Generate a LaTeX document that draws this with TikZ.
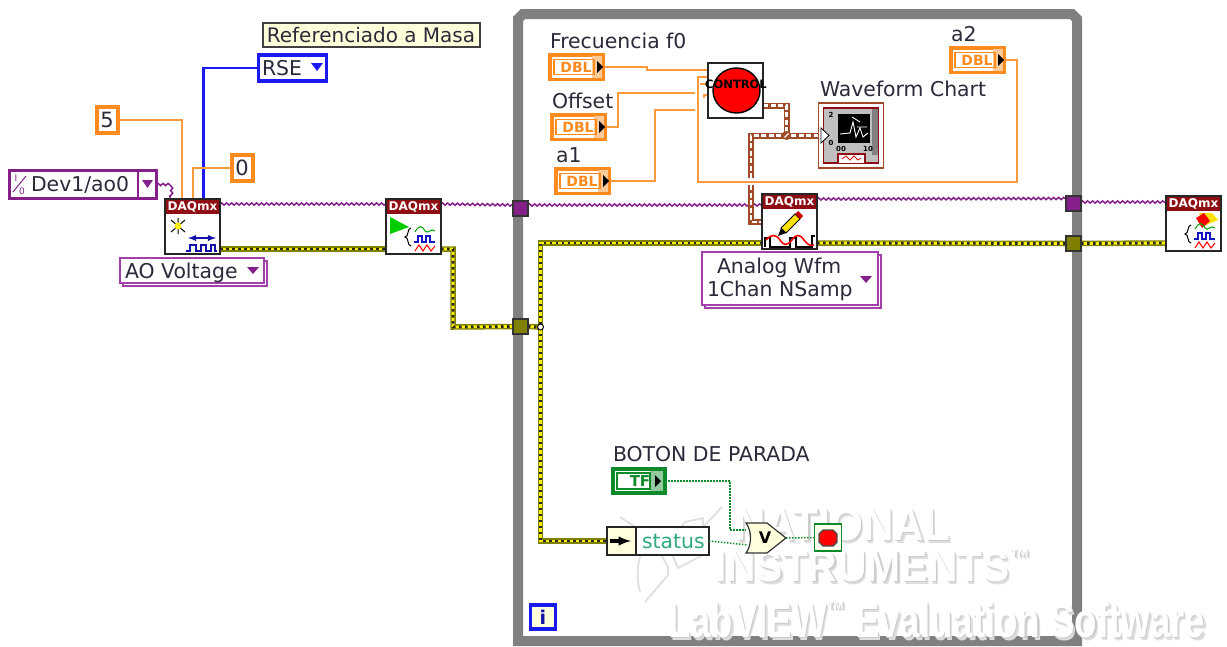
\documentclass[tikz,border=0pt]{standalone}
\usepackage{fontspec}
\usepackage{graphicx}
\setmainfont{DejaVu Sans}
\newfontfamily\wmfont{Liberation Sans}
\usetikzlibrary{decorations.pathmorphing}
\pgfdeclarelayer{wires}
\pgfdeclarelayer{top}
\pgfsetlayers{wires,main,top}
\definecolor{lvorange}{HTML}{FF8A1E}
\definecolor{lvwire}{HTML}{FF9A3C}
\definecolor{lvpurple}{HTML}{85208A}
\definecolor{lvlilac}{HTML}{A040A8}
\definecolor{lvblue}{HTML}{1A1AF0}
\definecolor{lvolive}{HTML}{808000}
\definecolor{lvbrown}{HTML}{A04A28}
\definecolor{lvred}{HTML}{8E0E14}
\definecolor{lvgreen}{HTML}{0F8A2A}
\definecolor{lvcream}{HTML}{FFFFDC}
\definecolor{lvtext}{HTML}{2A2A3A}
\tikzset{
  x=1pt,y=-1pt,
  every node/.style={inner sep=0pt,outer sep=0pt,text=lvtext},
  lbl/.style={font=\fontsize{20.4}{22}\selectfont,anchor=west},
  ow/.style={draw=lvwire,line width=2pt},
  pw/.style={draw=lvpurple,line width=1.5pt,decorate,decoration={snake,segment length=5pt,amplitude=1.1pt}},
  yw/.style={draw=lvolive,line width=5.5pt,
    postaction={draw=yellow,line width=2.8pt},
    postaction={draw=black!85,line width=2.8pt,dash pattern=on 2.5pt off 3.5pt}},
  bw/.style={draw=lvbrown,line width=6pt,
    postaction={draw=white,line width=2.4pt,dash pattern=on 5pt off 2.5pt}},
  gw/.style={draw=lvgreen,line width=1.5pt,dash pattern=on 1.5pt off 1.5pt},
  constbox/.style={draw=lvorange,line width=4pt,fill=white,font=\fontsize{21}{22}\selectfont},
  tunnel/.style={draw=black!80,line width=1.3pt,minimum width=15pt,minimum height=15pt},
  iconbox/.style={draw=black!85,fill=white,line width=1.6pt,minimum width=55pt,minimum height=55pt},
  ringbox/.style={draw=lvlilac,line width=1.5pt,fill=white,anchor=north west},
  logo/.style={draw=black!12,line width=1.8pt,line join=round},
}
% DAQmx icon frame: name, left, top
\newcommand{\daqicon}[3]{%
  \node[iconbox,anchor=north west] (#1) at (#2,#3) {};
  \begin{scope}[shift={(#2,#3)}]
    \fill[lvred] (1,1) rectangle (54,15);
    \node[text=white,font=\bfseries\fontsize{12}{12}\selectfont] (#1t) at (27.5,8) {DAQmx};
  \end{scope}}
% three waveforms and brace: left, top of icon
\newcommand{\wavetrio}[2]{%
  \begin{scope}[shift={(#1,#2)}]
    \draw[black,line width=1pt] (25,29) .. controls (21,29) and (23,38) .. (19,38) .. controls (23,38) and (21,47) .. (25,47);
    \draw[green!65!black,line width=1pt] (29,33) .. controls (33,26) and (36,26) .. (39,32) .. controls (42,36) and (45,28) .. (49,32);
    \draw[lvblue!80!black,line width=1.6pt] (28,43) -- (32,43) -- (32,37) -- (36,37) -- (36,43) -- (40,43) -- (40,37) -- (44,37) -- (44,43) -- (49,43);
    \draw[red,line width=1pt] (29,52) -- (33,46) -- (37,52) -- (41,46) -- (45,52) -- (49,47);
  \end{scope}}
% DBL terminal: name, left, top
\newcommand{\dblterm}[3]{%
  \node[draw=lvorange,line width=3.5pt,fill=white,anchor=north west,minimum width=53pt,minimum height=24.5pt] (#1) at (#2+1.75,#3+1.75) {};
  \begin{scope}[shift={(#2,#3)}]
    \fill[lvorange!45] (44,3) rectangle (53.5,25);
    \draw[lvorange,line width=1.1pt] (6,6.5) rectangle (46,21.5);
    \node[text=lvorange,font=\bfseries\fontsize{14}{15}\selectfont] (#1t) at (28,14.5) {DBL};
    \fill[black] (49,8) -- (55,14) -- (49,20) -- cycle;
  \end{scope}}
\begin{document}
\begin{tikzpicture}
\useasboundingbox (0,0) rectangle (1227,646);
\begin{pgfonlayer}{wires}
\fill[white] (0,0) rectangle (1227,646);
% while loop frame
\draw[draw=black!50,line width=10pt,miter limit=2] (518,19) -- (523,14) -- (1072,14) -- (1077,19) -- (1077,641) -- (518,641) -- cycle;
\end{pgfonlayer}
% constants, controls
\node[draw=black!75,line width=2pt,fill=lvcream,minimum width=217pt,minimum height=24pt,font=\fontsize{20}{22}\selectfont] (note) at (371,35) {Referenciado a Masa};
\node[draw=lvblue,line width=3.5pt,fill=white,minimum width=68pt,minimum height=26pt] (rse) at (292.5,68) {};
\node[lbl] (rset) at (262,68) {RSE};
\fill[lvblue] (311,63) -- (323,63) -- (317,71) -- cycle;
\node[constbox,minimum width=21pt,minimum height=26pt] (five) at (107,119.5) {5};
\node[constbox,minimum width=21pt,minimum height=26pt] (zero) at (242,167.5) {0};
\node[draw=lvpurple,line width=3.5pt,fill=white,minimum width=147pt,minimum height=28pt] (dev) at (83,184.5) {};
\draw[lvpurple,line width=1.5pt] (138,171) -- (138,198);
\fill[lvpurple] (142,180) -- (153,180) -- (147.5,188) -- cycle;
\node[lbl] (devt) at (31,184.5) {Dev1/ao0};
\node[font=\fontsize{9}{9}\selectfont,text=lvpurple] (devi) at (16,178) {I};
\node[font=\fontsize{9}{9}\selectfont,text=lvpurple] (devo) at (22,191) {0};
\draw[lvpurple,line width=1pt] (13,192) -- (26,176);
% DAQ icons
\daqicon{daqa}{165}{199}
\daqicon{daqb}{386}{199}
\daqicon{daqc}{762}{194}
\daqicon{daqd}{1166}{196}
% DAQ a glyphs
\begin{scope}[shift={(165,199)}]
  \draw[black,line width=1pt] (6,21) -- (20,33) (6,33) -- (20,21) (13,19) -- (13,35);
  \fill[yellow] (13,27) circle (3.5);
  \draw[lvblue!70!black,line width=1.8pt,<->,>=latex] (23,39) -- (51,39);
  \draw[lvblue!70!black,line width=1.8pt] (21,52) -- (25,52) -- (25,46) -- (31,46) -- (31,52) -- (36,52) -- (36,46) -- (41,46) -- (41,52) -- (46,52) -- (46,46) -- (50,46) -- (50,52) -- (52,52);
\end{scope}
% DAQ b glyphs
\begin{scope}[shift={(386,199)}]
  \fill[green!80!black] (4,18) -- (23,28) -- (4,35) -- cycle;
\end{scope}
\wavetrio{386}{199}
% DAQ c glyphs
\begin{scope}[shift={(762,194)}]
  \fill[yellow!85!orange] (19,34) -- (33,20) -- (38,25) -- (24,39) -- cycle;
  \draw[black,line width=1pt] (19,34) -- (33,20) -- (38,25) -- (24,39) -- cycle;
  \fill[red!80!black] (33,20) -- (36,17) -- (41,22) -- (38,25) -- cycle;
  \fill[black] (19,34) -- (24,39) -- (16,42) -- cycle;
  \draw[black,line width=1.4pt] (3,53) -- (3,44) -- (8,44) -- (8,53) -- (28,53) -- (28,44) -- (34,44) -- (34,53) -- (50,53) -- (50,42) -- (53,42);
  \draw[red,line width=1.6pt] (4,46) .. controls (9,40) and (14,40) .. (18,46) .. controls (22,52) and (25,52) .. (30,46) .. controls (34,40) and (38,40) .. (42,46) .. controls (46,51) and (48,52) .. (52,51);
\end{scope}
% DAQ d glyphs
\begin{scope}[shift={(1166,196)}]
  \fill[yellow!85!orange] (33,17) -- (46,17) -- (52,24) -- (38,30) -- cycle;
  \fill[red] (30,22) -- (38,17) -- (44,25) -- (36,32) -- cycle;
\end{scope}
\wavetrio{1166}{196}
% rings
\node[ringbox,minimum width=144pt,minimum height=25pt] (aoshadow) at (123,261) {};
\node[ringbox,minimum width=144pt,minimum height=25pt] (aoring) at (120,258) {};
\node[lbl] (aot) at (125,273) {AO Voltage};
\fill[lvpurple] (247,267) -- (259,267) -- (253,274) -- cycle;
\node[ringbox,minimum width=176pt,minimum height=53pt] (awshadow) at (705,255) {};
\node[ringbox,minimum width=176pt,minimum height=53pt] (awring) at (702,252) {};
\node[lbl] (awa) at (717,268) {Analog Wfm};
\node[lbl] (awb) at (707,291) {1Chan NSamp};
\fill[lvpurple] (860,276) -- (872,276) -- (866,283) -- cycle;
% tunnels
\node[tunnel,fill=lvpurple] (tpl) at (520.5,208.5) {};
\node[tunnel,fill=lvolive] (tol) at (520.5,326.5) {};
\node[tunnel,fill=lvpurple] (tpr) at (1073.5,203.5) {};
\node[tunnel,fill=lvolive] (tor) at (1073.5,243.5) {};
% labels
\node[lbl] (lf) at (550,41) {Frecuencia f0};
\node[lbl] (lo) at (552,101) {Offset};
\node[lbl] (la) at (556,155) {a1};
\node[lbl] (lb) at (951,34) {a2};
\node[lbl] (lw) at (820,89) {Waveform Chart};
\node[lbl] (ls) at (613,454) {BOTON DE PARADA};
% terminals
\dblterm{tf}{548}{53}
\dblterm{to}{550}{113}
\dblterm{ta}{554}{167}
\dblterm{tb}{949}{46}
% control
\node[iconbox,anchor=north west] (ctrl) at (708,63) {};
\fill[red,draw=black,line width=1.4pt] (736.5,90.5) ellipse (23.5 and 22.5);
\node[text=black,font=\bfseries\fontsize{11.5}{12}\selectfont] (ctrlt) at (736,84.5) {CONTROL};
% chart
\node[draw=lvbrown,line width=1.5pt,fill=white,minimum width=65pt,minimum height=65pt] (chart) at (851,135.5) {};
\node[draw=lvred,line width=1.5pt,fill=black!25,minimum width=55pt,minimum height=55pt] (chartin) at (851,135.5) {};
\fill[black!50] (872,109) rectangle (878,155);
\fill[black] (838,114) rectangle (870,143);
\draw[white,line width=.9pt] (840,134) -- (850,133) -- (853,122) -- (856,137) -- (860,128) -- (863,137) -- (868,133) (852,117) -- (860,122) (857,127) -- (867,127);
\fill[white] (838,154) -- (838,163) -- (865,163) -- (865,154) -- cycle;
\draw[lvred,line width=1.2pt] (838,163) -- (838,154) -- (865,154) -- (865,163);
\draw[red!80!black,line width=.8pt] (842,159) -- (846,156) -- (850,160) -- (854,156) -- (858,160) -- (861,158);
\fill[white,draw=black,line width=.8pt] (821,128) -- (829,135.5) -- (821,143) -- cycle;
\node[font=\bfseries\fontsize{7}{7}\selectfont,text=black] (ct2) at (831,115) {2};
\node[font=\bfseries\fontsize{7}{7}\selectfont,text=black] (ct0) at (831,143) {0};
\node[font=\bfseries\fontsize{7}{7}\selectfont,text=black] (ct00) at (841,149) {00};
\node[font=\bfseries\fontsize{7}{7}\selectfont,text=black] (ct10) at (868,149) {10};
% junctions
\coordinate (jy) at (540.5,327);
\coordinate (jb) at (786.5,135.5);
\coordinate (gapt) at (751,178);
\coordinate (gapb) at (751,185);
\coordinate (offend) at (695,93);
\coordinate (aend) at (695,110);
% watermark
\draw[logo] (620,517) -- (652,538) -- (668,567) -- (668,575) -- (645,602);
\draw[logo] (722,507) -- (703,527) -- (703,518) -- (685,522) -- (668,545) -- (678,568) -- (703,555);
\draw[logo] (640,592) .. controls (634,570) and (640,545) .. (652,538);
\foreach \dx/\col/\nn in {2.5/black!13/a,1.2/black!20/c,0/white/b}{
  \node[anchor=west,text=\col] (wn\nn) at (735+\dx,525+\dx) {\resizebox{215pt}{32pt}{\wmfont\bfseries NATIONAL}};
  \node[anchor=west,text=\col] (wi\nn) at (715+\dx,566+\dx) {\resizebox{315pt}{32pt}{\wmfont\bfseries INSTRUMENTS\raisebox{.75ex}{\scalebox{.5}{™}}}};
  \node[anchor=west,text=\col] (wl\nn) at (668+\dx,620+\dx) {\resizebox{537pt}{36pt}{\wmfont\bfseries LabVIEW\raisebox{.75ex}{\scalebox{.5}{™}} Evaluation Software}};
}
% boolean parts
\node[draw=lvgreen,line width=3.5pt,fill=white,minimum width=52pt,minimum height=24pt] (tbtn) at (639,481) {};
\fill[lvgreen!45] (650,471) rectangle (663,491);
\draw[lvgreen,line width=1.1pt] (617,473) rectangle (650,489);
\node[text=lvgreen,font=\bfseries\fontsize{15}{15}\selectfont] (tbtnt) at (640,481.5) {TF};
\fill[black] (655,475) -- (661,481) -- (655,487) -- cycle;
\node[draw=black!85,line width=1.3pt,fill=white,minimum width=102pt,minimum height=28pt] (unb) at (658,541) {};
\fill[lvcream,draw=black!85,line width=1.3pt] (607,527) rectangle (636,555);
\draw[black,line width=3.2pt,-latex] (610,541) -- (631,541);
\node[lbl,text=lvgreen!60!cyan!70!gray] (unbt) at (642,541) {status};
\node[draw=none,minimum width=40pt,minimum height=30pt] (orgate) at (766,538) {};
\fill[lvcream,draw=black!80,line width=1.2pt] (746,523) -- (767,523) -- (786,538) -- (767,553) -- (746,553) .. controls (752,545) and (752,531) .. cycle;
\node[text=black,font=\bfseries\fontsize{16}{16}\selectfont] (ort) at (765,538) {V};
\node[draw=lvgreen,line width=1.3pt,fill=lvcream!50,minimum width=27pt,minimum height=27pt] (stp) at (828,537.5) {};
\fill[red,draw=black!70,line width=1.4pt] (823,530) -- (833,530) -- (837,534) -- (837,542) -- (833,546) -- (823,546) -- (819,542) -- (819,534) -- cycle;
\node[draw=lvblue,line width=3.5pt,fill=lvcream,minimum width=25pt,minimum height=24pt,font=\bfseries\fontsize{19}{20}\selectfont] (iter) at (543,617) {\textcolor{lvblue!70!black}{i}};
% wires
\begin{pgfonlayer}{wires}
  \draw[draw=lvblue,line width=2.2pt] (rse.west) -| ([xshift=38.5pt]daqa.north west);
  \draw[ow] (five.east) -| ([xshift=17pt]daqa.north west);
  \draw[ow] (zero.west) -| ([xshift=28pt]daqa.north west);
  \draw[pw] (dev.east) -- (170,184.5) -- ([xshift=5pt]daqa.north west);
  \draw[pw] ([yshift=-5pt]daqa.north east) -- ([yshift=-5pt]daqb.north west);
  \draw[pw] ([yshift=-5pt]daqb.north east) -- ([yshift=3.5pt]tpl.west);
  \draw[pw] ([yshift=3.5pt]tpl.east) -- ([yshift=-11pt]daqc.north west);
  \draw[pw] ([yshift=-5pt]daqc.north east) -- ([yshift=5pt]tpr.west);
  \draw[pw] ([yshift=1.5pt]tpr.east) -- ([yshift=-6pt]daqd.north west);
  \draw[yw] ([yshift=-50pt]daqa.north east) -- ([yshift=-50pt]daqb.north west);
  \draw[yw] ([yshift=-50pt]daqb.north east) -- (453,249) -- (453,327) -- (tol.west);
  \draw[yw] (tol.east) -- (jy);
  \draw[yw] ([yshift=-49pt]daqc.north west) -- (540.5,243) -- (540.5,541) -- (unb.west);
  \draw[yw] ([yshift=-49pt]daqc.north east) -- (tor.west);
  \draw[yw] (tor.east) -- ([yshift=-47pt]daqd.north west);
  \draw[ow] (tf.east) -- (647,67) -- (647,70) -- ([yshift=-7pt]ctrl.north west);
  \draw[ow] (to.east) -- (618,127) -- (618,93) -- (offend);
  \draw[ow] (ta.east) -- (655,181) -- (655,110) -- (aend);
  \draw[ow] (tb.east) -- (1017,60) -- (1017,182) -- (698,182) -- (698,77) -- ([yshift=-14pt]ctrl.north west);
  \draw[ow] (700,84) -- ([yshift=-21pt]ctrl.north west);
  \draw[ow] (704,98) -- (704,95) -- ([yshift=-32pt]ctrl.north west);
  \draw[bw] ([yshift=-42.5pt]ctrl.north east) -| (jb);
  \draw[bw] (chart.west) -- (jb) -- (751,135.5) -- (gapt);
  \draw[bw] (gapb) -- (751,222) -- ([yshift=-28pt]daqc.north west);
\end{pgfonlayer}
\begin{pgfonlayer}{top}
  \draw[gw] (tbtn.east) -- (730,481) -- (730,530) -- (746,530);
  \draw[gw] (unb.east) -- (748,545);
  \draw[gw] (orgate.east) -- (stp.west);
\end{pgfonlayer}
\fill[lvbrown] (jb) circle (4.5);
\draw[white,line width=1.2pt] (784.5,137.5) -- (788.5,133.5);
\draw[black,line width=1pt,fill=white] (jy) circle (3);
\end{tikzpicture}
\end{document}
